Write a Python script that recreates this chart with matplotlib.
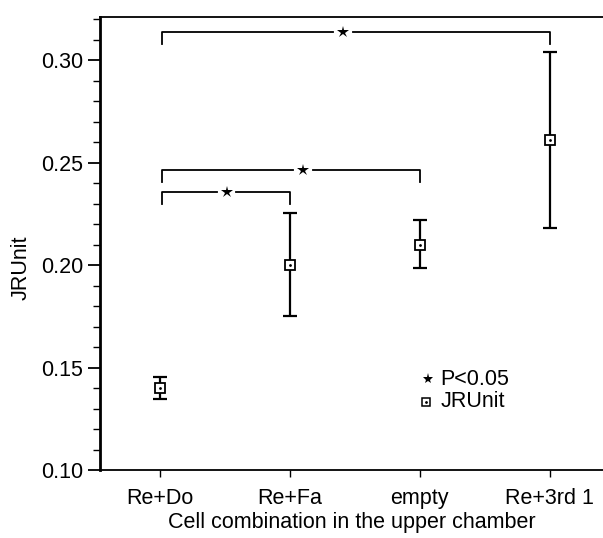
import numpy as np
import matplotlib
matplotlib.use('Agg')
import matplotlib.pyplot as plt
from matplotlib.ticker import MultipleLocator

plt.rcParams['font.family'] = ['Liberation Sans', 'DejaVu Sans']

categories = ['Re+Do', 'Re+Fa', 'empty', 'Re+3rd 1']
means = [0.140, 0.200, 0.210, 0.261]
upper = [0.1455, 0.2255, 0.2222, 0.304]
lower = [0.1345, 0.1750, 0.1985, 0.218]

# significance brackets: (from index, to index, height, star x)
brackets = [(0, 3, 0.3137, 1.41), (0, 2, 0.2463, 1.10), (0, 1, 0.2356, 0.515)]

FS = 15.5

fig = plt.figure(figsize=(6.03, 5.38), dpi=100)
ax = fig.add_axes([100 / 603, 68 / 538, 503 / 603, 453 / 538])

x = np.arange(len(categories))
m = np.array(means)
yerr = [m - np.array(lower), np.array(upper) - m]
ax.errorbar(x, m, yerr=yerr, fmt='none', ecolor='black', elinewidth=1.6,
            capsize=5, capthick=1.6, zorder=2)
ax.plot(x, m, 's', ms=7, mfc='white', mec='black', mew=1.3, zorder=3)
ax.plot(x, m, '.', ms=2, color='black', zorder=4)

gap = 0.075
for i0, i1, h, sx in brackets:
    x0 = x[i0] + 0.02
    x1 = x[i1]
    drop = 0.006
    ax.plot([x0, x0, sx - gap], [h - drop, h, h], color='black', lw=1.3)
    ax.plot([sx + gap, x1, x1], [h, h, h - drop], color='black', lw=1.3)
    ax.plot([sx], [h], marker='*', ms=9, color='black', mew=0)

# legend drawn as entries in data space
ax.plot([2.06], [0.1442], marker='*', ms=8, color='black', mew=0)
ax.text(2.16, 0.1442, 'P<0.05', fontsize=FS, ha='left', va='center')
ax.plot([2.05], [0.1334], 's', ms=6, mfc='white', mec='black', mew=1.1)
ax.plot([2.05], [0.1334], '.', ms=2, color='black')
ax.text(2.16, 0.1334, 'JRUnit', fontsize=FS, ha='left', va='center')

ax.set_xlim(-0.46, 3.41)
ax.set_ylim(0.10, 0.321)
ax.set_xticks(x)
ax.set_xticklabels(categories, fontsize=FS)
ax.yaxis.set_minor_locator(MultipleLocator(0.01))
ax.set_yticks([0.10, 0.15, 0.20, 0.25, 0.30])
ax.set_yticklabels(['0.10', '0.15', '0.20', '0.25', '0.30'], fontsize=FS)
ax.tick_params(axis='y', which='major', length=9, width=1.3, direction='out',
               pad=3)
ax.tick_params(axis='y', which='minor', length=5, width=1.0, direction='out')
ax.tick_params(axis='x', length=5, width=1.0, direction='out', pad=8)

ax.spines['right'].set_visible(False)
ax.spines['left'].set_linewidth(2.0)
ax.spines['top'].set_linewidth(1.3)
ax.spines['bottom'].set_linewidth(1.3)

ax.set_ylabel('JRUnit', fontsize=FS)
ax.yaxis.set_label_coords(-0.135, 0.446)
ax.set_xlabel('Cell combination in the upper chamber', fontsize=FS,
              labelpad=2)

fig.savefig('out.png', dpi=100)
